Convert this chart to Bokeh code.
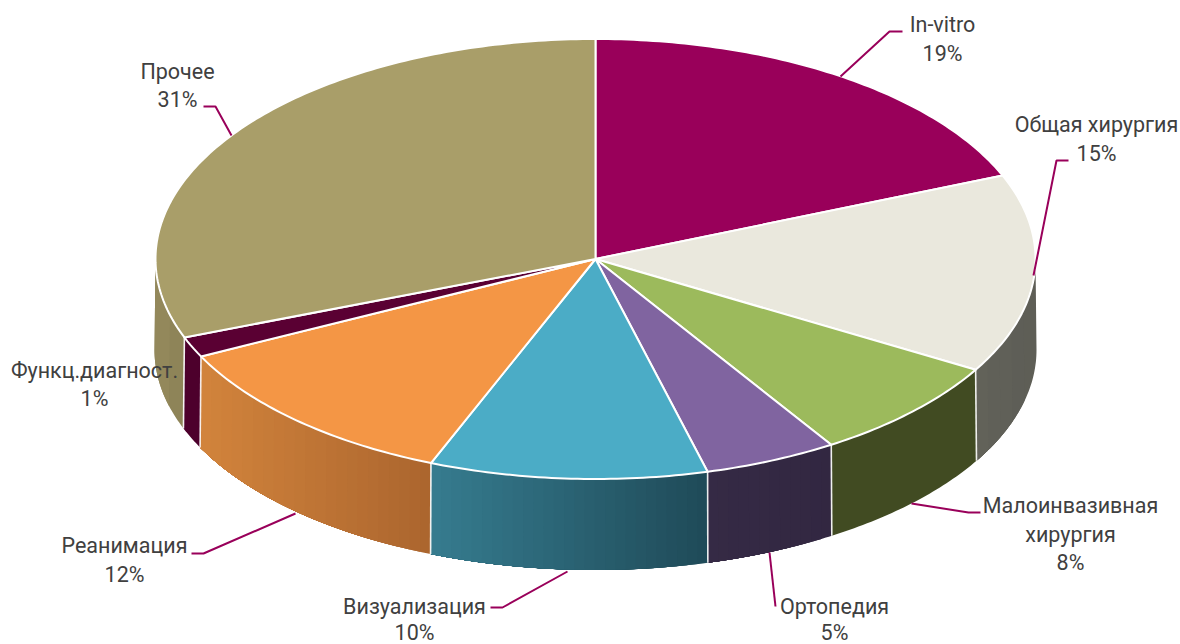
import numpy as np
from bokeh.plotting import figure
from bokeh.models import Range1d
from bokeh.core.properties import value
from bokeh.embed import file_html
from bokeh.resources import INLINE

categories = ["In-vitro", "Общая хирургия", "Малоинвазивная хирургия", "Ортопедия",
              "Визуализация", "Реанимация", "Функц.диагност.", "Прочее"]
shown_percent = [19, 15, 8, 5, 10, 12, 1, 31]
# slice sizes (shown labels are rounded)
values = [18.8, 14.6, 7.6, 4.9, 10.2, 11.6, 1.5, 30.8]

top_colors = ["#99005a", "#eae8dd", "#9cba5c", "#8064a0", "#4bacc6", "#f49645", "#5a0033", "#a99e69"]
side_left = ["#660040", "#626259", "#414b22", "#352a45", "#367c8f", "#d2843c", "#4d002c", "#95895c"]
side_right = ["#660040", "#5d5d56", "#414b22", "#322741", "#1f4a58", "#ab652e", "#4d002c", "#8c8357"]

label_lines = [["In-vitro", "19%"], ["Общая хирургия", "15%"], ["Малоинвазивная", "хирургия", "8%"],
               ["Ортопедия", "5%"], ["Визуализация", "10%"], ["Реанимация", "12%"],
               ["Функц.диагност.", "1%"], ["Прочее", "31%"]]
label_x = [942, 1096, 1070, 834, 414, 124, 94, 177]
label_y = [[24, 53], [124, 153], [505, 534, 562], [606, 632], [606, 632], [545, 574], [370, 398], [71, 99]]
leaders = [[(840, 76), (889, 31), (902, 31)], [(1033, 275), (1056, 160), (1068, 160)],
           [(911, 503), (968, 512), (980, 512)], [(769, 552), (775, 606)],
           [(567, 571), (502, 607), (490, 607)], [(295, 513), (203, 553), (191, 553)],
           [], [(231, 135), (215, 106), (203, 106)]]

CX, CY, RX, RY, DEPTH = 595, 258.5, 440, 220, 91

p = figure(width=1180, height=644, output_backend="svg", toolbar_location=None,
           x_range=Range1d(0, 1180), y_range=Range1d(644, 0), min_border=0,
           outline_line_color=None, x_axis_location=None, y_axis_location=None)
p.grid.visible = False
p.background_fill_color = "white"
p.border_fill_color = "white"


def ell(theta, dy=0.0, drx=0.0):
    return CX + (RX + drx) * np.sin(theta), CY + dy - RY * np.cos(theta)


def hexmix(a, b, t):
    ca = [int(a[i:i + 2], 16) for i in (1, 3, 5)]
    cb = [int(b[i:i + 2], 16) for i in (1, 3, 5)]
    return "#%02x%02x%02x" % tuple(int(round(u + (v - u) * t)) for u, v in zip(ca, cb))


edges = np.concatenate([[0], np.cumsum(values)]) / np.sum(values) * 2 * np.pi

# side wall: bands painted over each other, so no seams show between them
xs, ys, cs, sep_x, sep_y = [], [], [], [], []
for i in range(len(values)):
    a, b = max(edges[i], np.pi / 2), min(edges[i + 1], 3 * np.pi / 2)
    if b <= a:
        continue
    xa, xb = ell(a)[0], ell(b)[0]
    n = 1 if side_left[i] == side_right[i] else max(2, int(abs(xa - xb) / 10))
    # equal widths along x, so the colour ramp runs evenly across the wall
    sx = np.linspace(xa, xb, n + 1)
    ts = np.pi - np.arcsin(np.clip((sx - CX) / RX, -1, 1))
    ts[0], ts[-1] = a, b
    for k in range(n):
        fine = np.linspace(ts[k], b, 40)
        x0, y0 = ell(fine)
        x1, y1 = ell(fine[::-1], DEPTH, 1.0)
        t = 1 - (k + 0.5) / n
        xs.append(np.concatenate([x0, x1]).tolist())
        ys.append(np.concatenate([y0, y1]).tolist())
        cs.append(hexmix(side_left[i], side_right[i], t))
p.patches(xs, ys, fill_color=cs, line_color=None)

for e in edges:
    if np.pi / 2 < e < 3 * np.pi / 2:
        x0, y0 = ell(e)
        x1, y1 = ell(e, DEPTH, 1.0)
        sep_x.append([x0, x1])
        sep_y.append([y0, y1])
p.multi_line(sep_x, sep_y, line_color="#ffffff", line_width=1.6, line_alpha=0.9)

# top face
tx, ty = [], []
for i in range(len(values)):
    th = np.linspace(edges[i], edges[i + 1], max(4, int((edges[i + 1] - edges[i]) * 70)))
    x, y = ell(th)
    tx.append([CX] + x.tolist())
    ty.append([CY] + y.tolist())
p.patches(tx, ty, fill_color=top_colors, line_color="#ffffff", line_width=2, line_join="round")

# leaders
lx = [[q[0] for q in l] for l in leaders if l]
ly = [[q[1] for q in l] for l in leaders if l]
p.multi_line(lx, ly, line_color="#99005a", line_width=2)

# labels
tx_, ty_, tt = [], [], []
for lines, x, yy in zip(label_lines, label_x, label_y):
    for s, y in zip(lines, yy):
        tx_.append(x)
        ty_.append(y)
        tt.append(s)
p.text(tx_, ty_, text=tt, text_font=value("Roboto"), text_font_size="21.5px", text_color="#404040",
       text_align="center", text_baseline="middle")

open("out.html", "w").write(file_html(p, INLINE))
